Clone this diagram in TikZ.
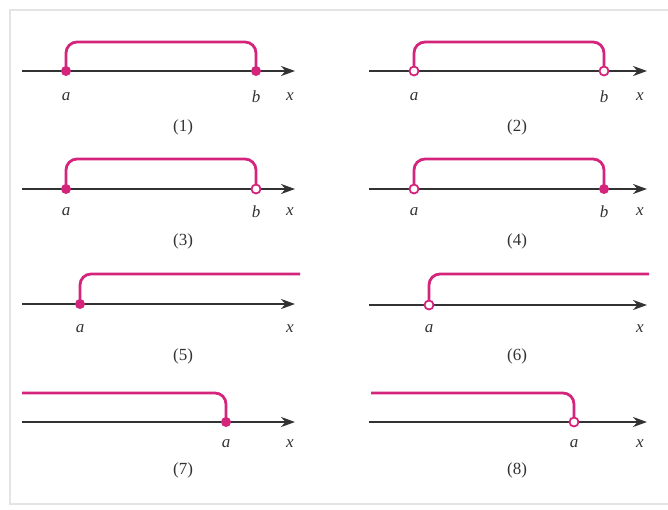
\documentclass[tikz,border=0pt]{standalone}
\usepackage{fontspec}
\setmainfont{Liberation Serif}
\usetikzlibrary{arrows.meta, positioning}

\definecolor{intmag}{RGB}{212,36,124}
\definecolor{axisgray}{RGB}{50,50,50}
\definecolor{framegray}{RGB}{228,228,228}

\tikzset{
  axisline/.style={axisgray, line width=2.3pt, -{Stealth[length=14pt,width=10pt]}},
  interval/.style={intmag, line width=2.8pt, rounded corners=11pt},
  closedpt/.style={circle, fill=intmag, inner sep=0pt, minimum size=10pt},
  openpt/.style={circle, draw=intmag, fill=white, line width=1.8pt, inner sep=0pt, minimum size=9pt},
  lbl/.style={font=\fontsize{17}{19}\selectfont\itshape, text=axisgray},
  num/.style={font=\fontsize{17}{19}\selectfont, text=axisgray}
}

\begin{document}
\begin{tikzpicture}[x=1pt, y=-1pt]
\useasboundingbox (0,0) rectangle (668,509);

% Frame
\draw[framegray, line width=1.2pt] (668,10) -- (10,10) -- (10,504) -- (668,504);

% (1) closed a, closed b
\coordinate (s1) at (22,71);  \coordinate (e1) at (295,71);
\coordinate (a1) at (66,71);  \coordinate (b1) at (256,71);
\draw[axisline] (s1) -- (e1);
\draw[interval] (a1) -- ++(0,-29) -| (b1);
\node[closedpt] (pa1) at (a1) {};
\node[closedpt] (pb1) at (b1) {};
\node[lbl] (la1) at (66,97) {a};
\node[lbl] (lb1) at (256,97) {b};
\node[lbl] (lx1) at (290,97) {x};
\node[num] (n1) at (183,127) {(1)};

% (2) open a, open b
\coordinate (s2) at (369,71);  \coordinate (e2) at (647,71);
\coordinate (a2) at (414,71);  \coordinate (b2) at (604,71);
\draw[axisline] (s2) -- (e2);
\draw[interval] (a2) -- ++(0,-29) -| (b2);
\node[openpt] (pa2) at (a2) {};
\node[openpt] (pb2) at (b2) {};
\node[lbl] (la2) at (414,97) {a};
\node[lbl] (lb2) at (604,97) {b};
\node[lbl] (lx2) at (640,97) {x};
\node[num] (n2) at (517,127) {(2)};

% (3) closed a, open b
\coordinate (s3) at (22,189);  \coordinate (e3) at (295,189);
\coordinate (a3) at (66,189);  \coordinate (b3) at (256,189);
\draw[axisline] (s3) -- (e3);
\draw[interval] (a3) -- ++(0,-30) -| (b3);
\node[closedpt] (pa3) at (a3) {};
\node[openpt] (pb3) at (b3) {};
\node[lbl] (la3) at (66,212) {a};
\node[lbl] (lb3) at (256,212) {b};
\node[lbl] (lx3) at (290,212) {x};
\node[num] (n3) at (183,241) {(3)};

% (4) open a, closed b
\coordinate (s4) at (369,189);  \coordinate (e4) at (647,189);
\coordinate (a4) at (414,189);  \coordinate (b4) at (604,189);
\draw[axisline] (s4) -- (e4);
\draw[interval] (a4) -- ++(0,-30) -| (b4);
\node[openpt] (pa4) at (a4) {};
\node[closedpt] (pb4) at (b4) {};
\node[lbl] (la4) at (414,212) {a};
\node[lbl] (lb4) at (604,212) {b};
\node[lbl] (lx4) at (640,212) {x};
\node[num] (n4) at (517,241) {(4)};

% (5) closed a, ray to the right
\coordinate (s5) at (22,304);  \coordinate (e5) at (295,304);
\coordinate (a5) at (80,304);  \coordinate (r5) at (300,274);
\draw[axisline] (s5) -- (e5);
\draw[interval] (a5) |- (r5);
\node[closedpt] (pa5) at (a5) {};
\node[lbl] (la5) at (80,329) {a};
\node[lbl] (lx5) at (290,329) {x};
\node[num] (n5) at (183,356) {(5)};

% (6) open a, ray to the right
\coordinate (s6) at (369,305);  \coordinate (e6) at (647,305);
\coordinate (a6) at (429,305);  \coordinate (r6) at (649,274);
\draw[axisline] (s6) -- (e6);
\draw[interval] (a6) |- (r6);
\node[openpt] (pa6) at (a6) {};
\node[lbl] (la6) at (429,329) {a};
\node[lbl] (lx6) at (640,329) {x};
\node[num] (n6) at (517,356) {(6)};

% (7) ray to the left, closed a
\coordinate (s7) at (22,422);  \coordinate (e7) at (295,422);
\coordinate (a7) at (226,422);  \coordinate (r7) at (22,393);
\draw[axisline] (s7) -- (e7);
\draw[interval] (r7) -| (a7);
\node[closedpt] (pa7) at (a7) {};
\node[lbl] (la7) at (226,444) {a};
\node[lbl] (lx7) at (290,444) {x};
\node[num] (n7) at (183,470) {(7)};

% (8) ray to the left, open a
\coordinate (s8) at (369,422);  \coordinate (e8) at (647,422);
\coordinate (a8) at (574,422);  \coordinate (r8) at (371,393);
\draw[axisline] (s8) -- (e8);
\draw[interval] (r8) -| (a8);
\node[openpt] (pa8) at (a8) {};
\node[lbl] (la8) at (574,444) {a};
\node[lbl] (lx8) at (640,444) {x};
\node[num] (n8) at (517,470) {(8)};

\end{tikzpicture}
\end{document}
